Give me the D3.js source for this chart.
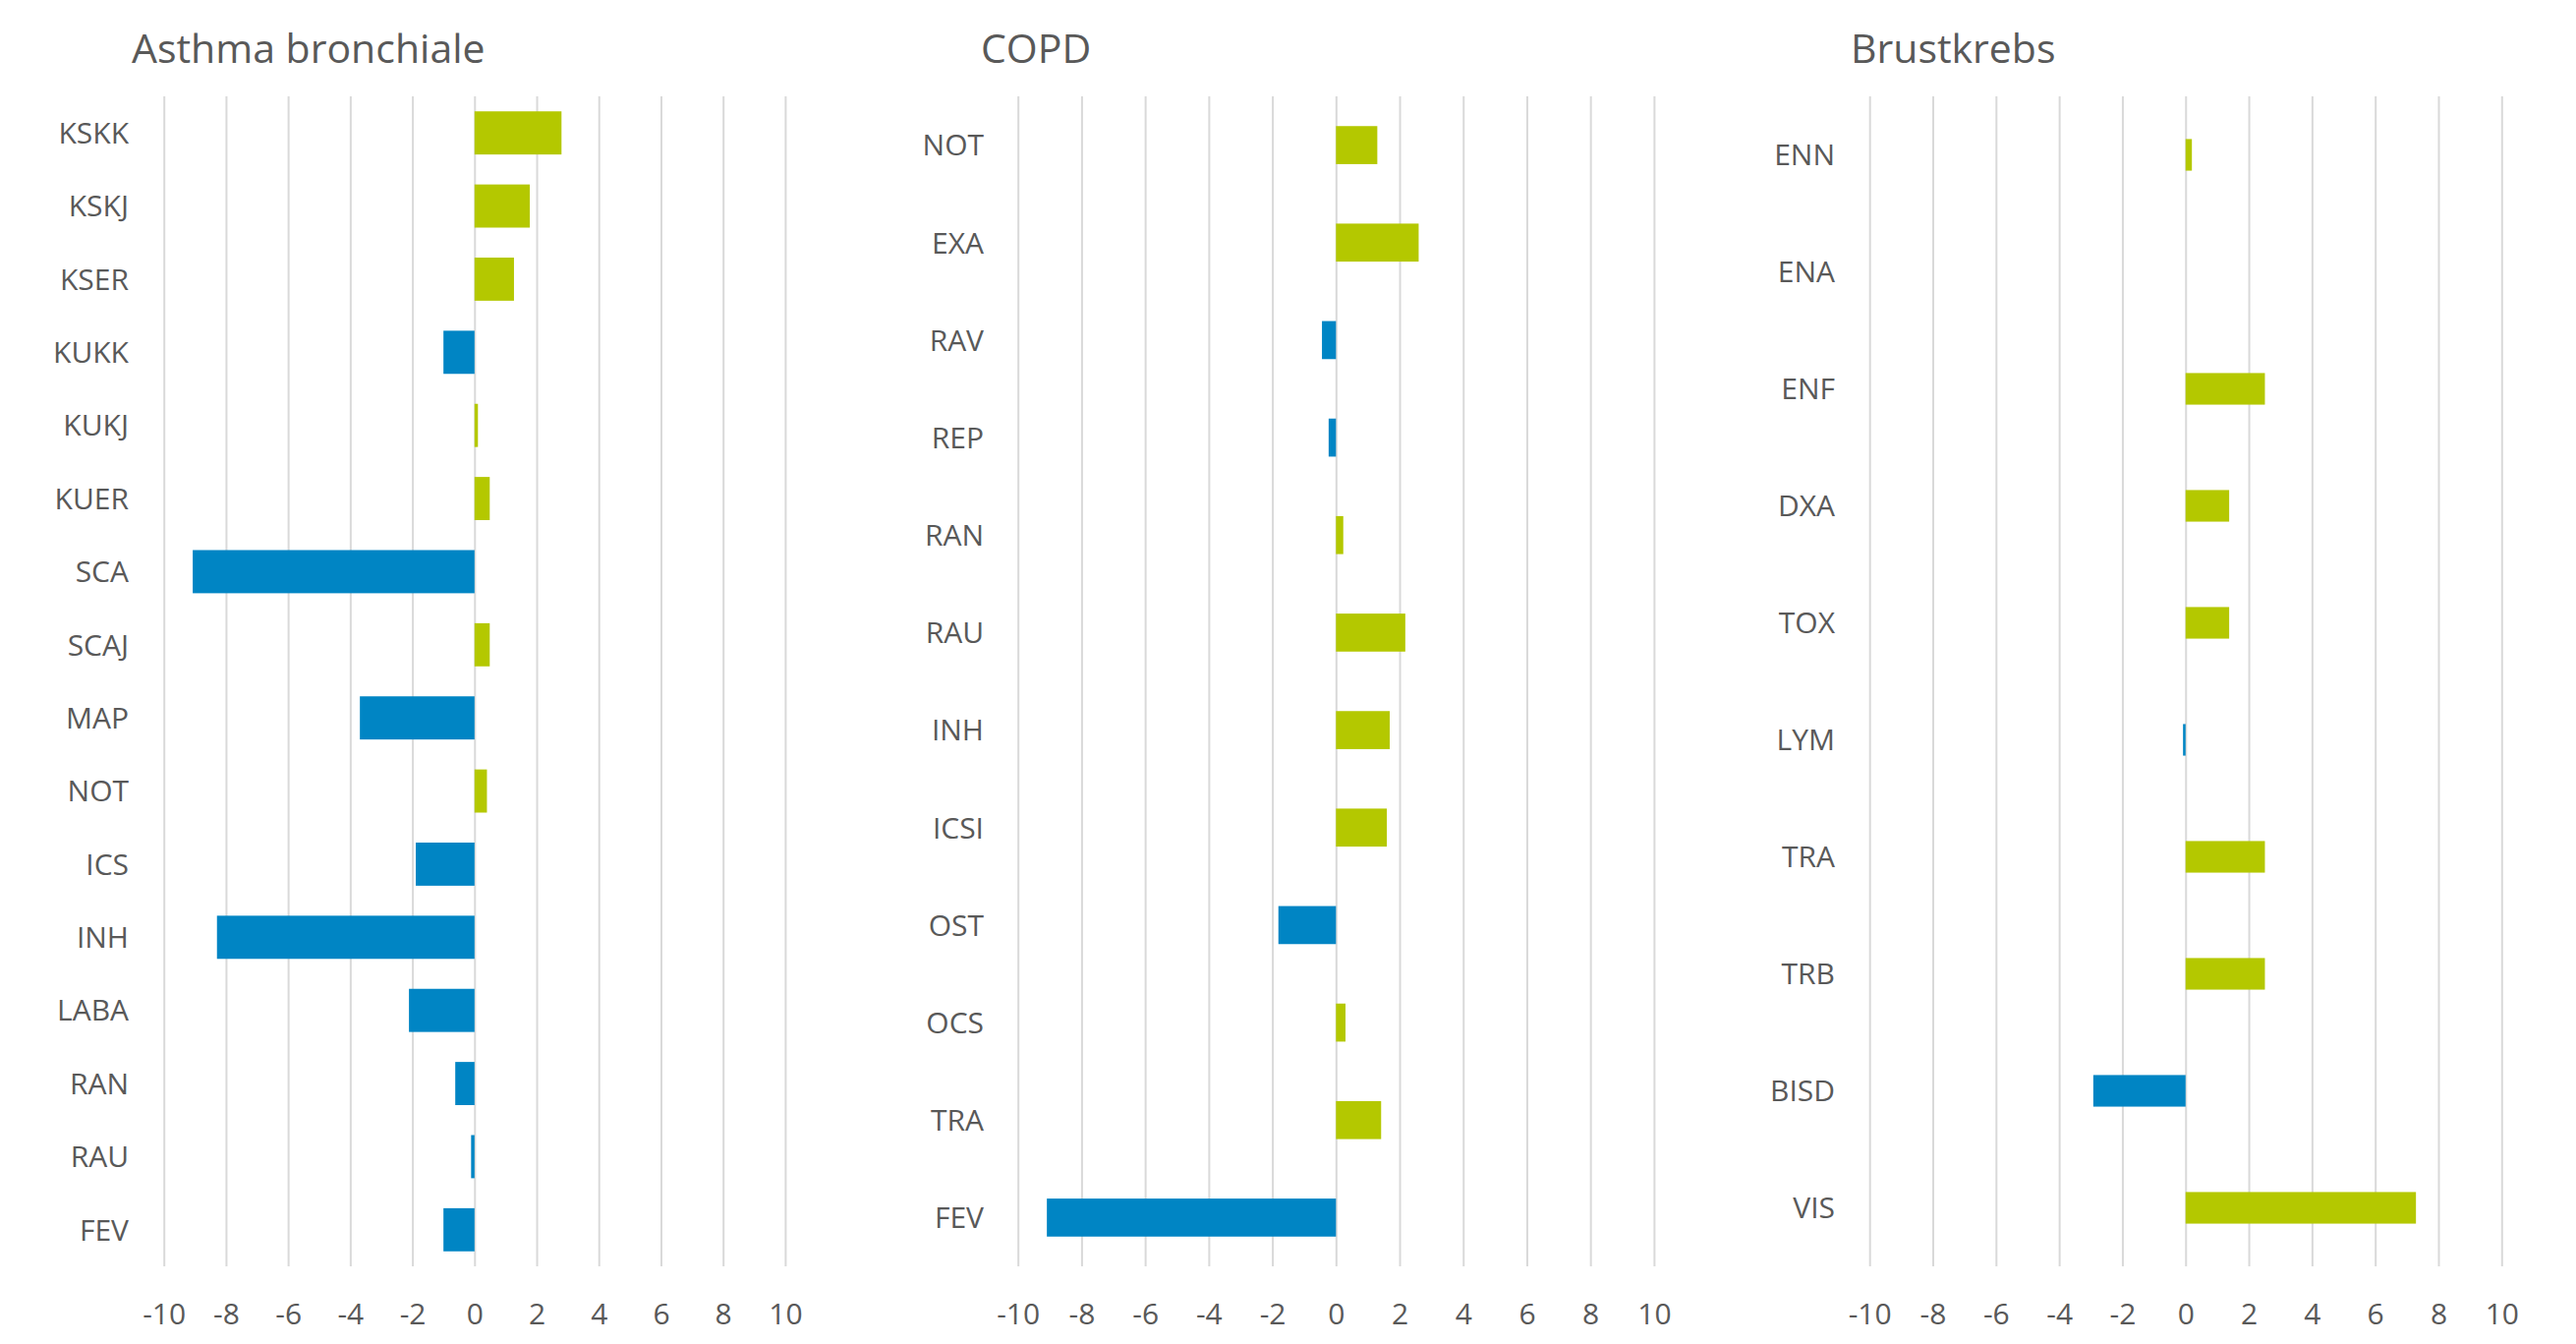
<!DOCTYPE html>
<html>
<head>
<meta charset="utf-8">
<script src="https://cdn.jsdelivr.net/npm/d3@7"></script>
<style>
  body { margin: 0; background: #fff; }
  text { font-family: "Open Sans", sans-serif; fill: #595959; }
</style>
</head>
<body>
<svg id="chart"></svg>
<script>
// data
const asthmaCats = ["KSKK","KSKJ","KSER","KUKK","KUKJ","KUER","SCA","SCAJ","MAP","NOT","ICS","INH","LABA","RAN","RAU","FEV"];
const asthmaVals = [2.8, 1.78, 1.27, -1.0, 0.11, 0.49, -9.07, 0.49, -3.69, 0.4, -1.89, -8.29, -2.11, -0.62, -0.11, -1.0];

const copdCats = ["NOT","EXA","RAV","REP","RAN","RAU","INH","ICSI","OST","OCS","TRA","FEV"];
const copdVals = [1.3, 2.6, -0.44, -0.23, 0.23, 2.18, 1.69, 1.6, -1.81, 0.3, 1.42, -9.09];

const krebsCats = ["ENN","ENA","ENF","DXA","TOX","LYM","TRA","TRB","BISD","VIS"];
const krebsVals = [0.2, 0, 2.51, 1.38, 1.38, -0.08, 2.51, 2.51, -2.92, 7.29];

const tickVals = [-10, -8, -6, -4, -2, 0, 2, 4, 6, 8, 10];

const width = 2621, height = 1367;
const green = "#b4c800", blue = "#0085c4";

var svg = d3.select("#chart").attr("width", width).attr("height", height);

const panels = [
  {title: "Asthma bronchiale", cats: asthmaCats, vals: asthmaVals, x0: 166.7, x1: 798.9, labelX: 131, titleX: 134, pad: 0.41},
  {title: "COPD", cats: copdCats, vals: copdVals, x0: 1035.7, x1: 1682.9, labelX: 1001, titleX: 998, pad: 0.61},
  {title: "Brustkrebs", cats: krebsCats, vals: krebsVals, x0: 1902.2, x1: 2545.3, labelX: 1867, titleX: 1883, pad: 0.73}
];

const plotTop = 98, plotBottom = 1288;

panels.forEach(p => {
  var g = svg.append("g");

  var x = d3.scaleLinear().domain([-10, 10]).range([p.x0, p.x1]);
  var y = d3.scaleBand().domain(p.cats).range([plotTop, plotBottom])
    .paddingInner(p.pad).paddingOuter(p.pad / 2);

  // gridlines + tick labels
  var ax = g.append("g")
    .attr("transform", `translate(0,${plotBottom})`)
    .call(d3.axisBottom(x).tickValues(tickVals).tickFormat(d => String(d))
      .tickSize(-(plotBottom - plotTop)).tickPadding(38));
  ax.select(".domain").remove();
  ax.selectAll(".tick line").attr("stroke", "#d9d9d9").attr("stroke-width", 2);
  ax.selectAll(".tick text")
    .style("font-family", '"Open Sans", sans-serif')
    .attr("font-size", 30).attr("fill", "#595959");

  // bars
  g.append("g")
    .selectAll("rect")
    .data(p.vals)
    .join("rect")
    .attr("x", d => x(Math.min(0, d)))
    .attr("width", d => Math.abs(x(d) - x(0)))
    .attr("y", (d, i) => y(p.cats[i]))
    .attr("height", y.bandwidth())
    .attr("fill", d => d < 0 ? blue : green);

  // category labels
  g.append("g")
    .selectAll("text")
    .data(p.cats)
    .join("text")
    .attr("x", p.labelX)
    .attr("y", d => y(d) + y.bandwidth() / 2)
    .attr("dy", "0.36em")
    .attr("text-anchor", "end")
    .attr("font-size", 30)
    .text(d => d);

  g.append("text")
    .attr("x", p.titleX)
    .attr("y", 64)
    .attr("font-size", 41)
    .text(p.title);
});
</script>
</body>
</html>
